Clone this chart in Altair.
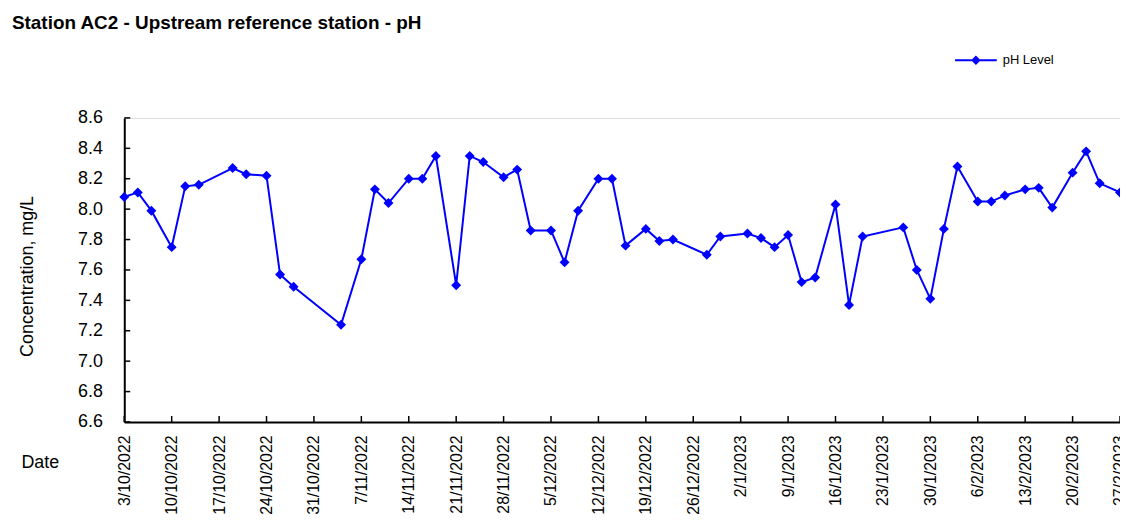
import altair as alt
import pandas as pd

# ---- data ----
dates = [
    "2022-10-03", "2022-10-05", "2022-10-07", "2022-10-10", "2022-10-12", "2022-10-14",
    "2022-10-19", "2022-10-21", "2022-10-24", "2022-10-26", "2022-10-28", "2022-11-04",
    "2022-11-07", "2022-11-09", "2022-11-11", "2022-11-14", "2022-11-16", "2022-11-18",
    "2022-11-21", "2022-11-23", "2022-11-25", "2022-11-28", "2022-11-30", "2022-12-02",
    "2022-12-05", "2022-12-07", "2022-12-09", "2022-12-12", "2022-12-14", "2022-12-16",
    "2022-12-19", "2022-12-21", "2022-12-23", "2022-12-28", "2022-12-30", "2023-01-03",
    "2023-01-05", "2023-01-07", "2023-01-09", "2023-01-11", "2023-01-13", "2023-01-16",
    "2023-01-18", "2023-01-20", "2023-01-26", "2023-01-28", "2023-01-30", "2023-02-01",
    "2023-02-03", "2023-02-06", "2023-02-08", "2023-02-10", "2023-02-13", "2023-02-15",
    "2023-02-17", "2023-02-20", "2023-02-22", "2023-02-24", "2023-02-27",
]
ph_values = [
    8.08, 8.11, 7.99, 7.75, 8.15, 8.16,
    8.27, 8.23, 8.22, 7.57, 7.49, 7.24,
    7.67, 8.13, 8.04, 8.20, 8.20, 8.35,
    7.50, 8.35, 8.31, 8.21, 8.26, 7.86,
    7.86, 7.65, 7.99, 8.20, 8.20, 7.76,
    7.87, 7.79, 7.80, 7.70, 7.82, 7.84,
    7.81, 7.75, 7.83, 7.52, 7.55, 8.03,
    7.37, 7.82, 7.88, 7.60, 7.41, 7.87,
    8.28, 8.05, 8.05, 8.09, 8.13, 8.14,
    8.01, 8.24, 8.38, 8.17, 8.11,
]
series_name = ["pH Level"]
x_tick_labels = [
    "3/10/2022", "10/10/2022", "17/10/2022", "24/10/2022", "31/10/2022", "7/11/2022",
    "14/11/2022", "21/11/2022", "28/11/2022", "5/12/2022", "12/12/2022", "19/12/2022",
    "26/12/2022", "2/1/2023", "9/1/2023", "16/1/2023", "23/1/2023", "30/1/2023",
    "6/2/2023", "13/2/2023", "20/2/2023", "27/2/2023",
]
y_ticks = [6.6, 6.8, 7.0, 7.2, 7.4, 7.6, 7.8, 8.0, 8.2, 8.4, 8.6]

# ---- helpers ----
def label_to_iso(s):
    d, m, y = s.split("/")
    return f"{y}-{int(m):02d}-{int(d):02d}T00:00:00"

def label_to_dt(s):
    d, m, y = s.split("/")
    return alt.DateTime(year=int(y), month=int(m), date=int(d))

FONT = "Liberation Sans"
BLUE = "#0000ff"
W, H = 1002, 306

df = pd.DataFrame({
    "date": [d + "T00:00:00" for d in dates],
    "ph": ph_values,
    "series": series_name * len(dates),
})
xtick_df = pd.DataFrame({"date": [label_to_iso(s) for s in x_tick_labels]})
ytick_df = pd.DataFrame({"ph": y_ticks})

x_enc = alt.X(
    "date:T",
    scale=alt.Scale(domain=[label_to_dt(x_tick_labels[0]), label_to_dt(x_tick_labels[-1])]),
    axis=alt.Axis(
        values=[label_to_dt(s) for s in x_tick_labels],
        labelExpr="timeFormat(datum.value, '%-d/%-m/%Y')",
        labelAngle=270,
        labelFontSize=16,
        labelPadding=13,
        labelFlush=False,
        labelOverlap=False,
        labelBound=False,
        labelColor="black",
        ticks=False,
        tickSize=0,
        grid=False,
        domainColor="black",
        domainWidth=2,
        title="Date",
        titleFontSize=18,
        titleFontWeight="normal",
        titleColor="black",
        titleAngle=0,
        titleAlign="left",
        titleBaseline="middle",
        titleX=-104,
        titleY=41,
    ),
)
y_enc = alt.Y(
    "ph:Q",
    scale=alt.Scale(domain=[6.6, 8.6], nice=False, zero=False),
    axis=alt.Axis(
        values=y_ticks,
        format=".1f",
        labelFontSize=18,
        labelPadding=22,
        labelColor="black",
        ticks=False,
        tickSize=0,
        grid=False,
        domainColor="black",
        domainWidth=2,
        title="Concentration, mg/L",
        titleFontSize=18,
        titleFontWeight="normal",
        titleColor="black",
        titleBaseline="middle",
        titleX=-97,
        titleY=159,
    ),
)

legend_symbol = "M-1,0L1,0M-0.16,0L0,-0.16L0.16,0L0,0.16Z"

line = alt.Chart(df).mark_line(
    color=BLUE, strokeWidth=2,
    point=alt.OverlayMarkDef(shape="diamond", size=100, filled=True, color=BLUE, opacity=1),
).encode(
    x=x_enc,
    y=y_enc,
    color=alt.Color(
        "series:N",
        scale=alt.Scale(range=[BLUE]),
        legend=alt.Legend(
            title=None,
            orient="none",
            legendX=835,
            legendY=-80,
            symbolType=legend_symbol,
            symbolSize=1764,
            symbolStrokeWidth=2,
            symbolStrokeColor=BLUE,
            symbolFillColor=BLUE,
            labelFontSize=13,
            labelColor="black",
            labelOffset=5,
        ),
    ),
)

yticks = alt.Chart(ytick_df).mark_rule(color="black", strokeWidth=1.5).encode(
    y=y_enc, x=alt.value(0), x2=alt.value(6)
)
xticks = alt.Chart(xtick_df).mark_rule(color="black", strokeWidth=1.5).encode(
    x=x_enc, y=alt.value(H - 6), y2=alt.value(H)
)

chart = alt.layer(line, yticks, xticks).properties(
    width=W,
    height=H,
    title=alt.Title(
        "Station AC2 - Upstream reference station - pH",
        anchor="start",
        frame="group",
        fontSize=19,
        fontWeight="bold",
        font=FONT,
        color="black",
        baseline="bottom",
        offset=6,
        dx=-113,
        dy=20,
    ),
    autosize=alt.AutoSizeParams(type="none"),
    padding={"left": 117, "top": 109, "right": 0, "bottom": 94},
).configure_view(
    stroke="#808080", strokeWidth=2
).configure_axis(
    labelFont=FONT, titleFont=FONT
).configure_legend(
    labelFont=FONT
).configure(background="white")

chart.save("out.html", embed_options={"renderer": "svg", "actions": False})
